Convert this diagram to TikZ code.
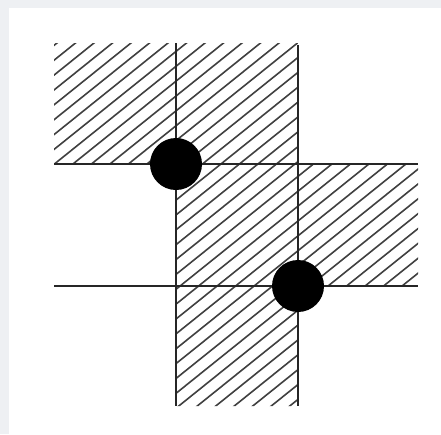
\documentclass[tikz,border=0pt]{standalone}
\definecolor{framegray}{HTML}{EEF0F3}
\begin{document}
\begin{tikzpicture}[x=1pt,y=-1pt,
  hatchline/.style={line width=1.6pt,draw=black!75},
  edge/.style={line width=1.4pt,draw=black!85},
  dot/.style={circle,fill=black,inner sep=0pt,minimum size=52pt}]
\useasboundingbox (0,0) rectangle (441,434);
\fill[framegray] (0,0) rectangle (441,434);
\fill[white] (9,8) rectangle (441,434);
% hatched region
\begin{scope}
\clip (54,43) -- (298,43) -- (298,164) -- (418,164) -- (418,286) -- (298,286)
      -- (298,406) -- (176,406) -- (176,164) -- (54,164) -- cycle;
\foreach \c in {-597.5,-579,...,450}
  \draw[hatchline] (\c,450) -- (\c+560,0);
\end{scope}
% grid lines
\coordinate (v1t) at (176,43);
\coordinate (v1b) at (176,406);
\coordinate (v2t) at (298,45);
\coordinate (v2b) at (298,406);
\coordinate (h1l) at (54,164);
\coordinate (h1r) at (418,164);
\coordinate (h2l) at (54,286);
\coordinate (h2r) at (418,286);
\draw[edge] (v1t) -- (v1b);
\draw[edge] (v2t) -- (v2b);
\draw[edge] (h1l) -- (h1r);
\draw[edge] (h2l) -- (h2r);
% dots
\node[dot] (d1) at (176,164) {};
\node[dot] (d2) at (298,286) {};
\end{tikzpicture}
\end{document}
